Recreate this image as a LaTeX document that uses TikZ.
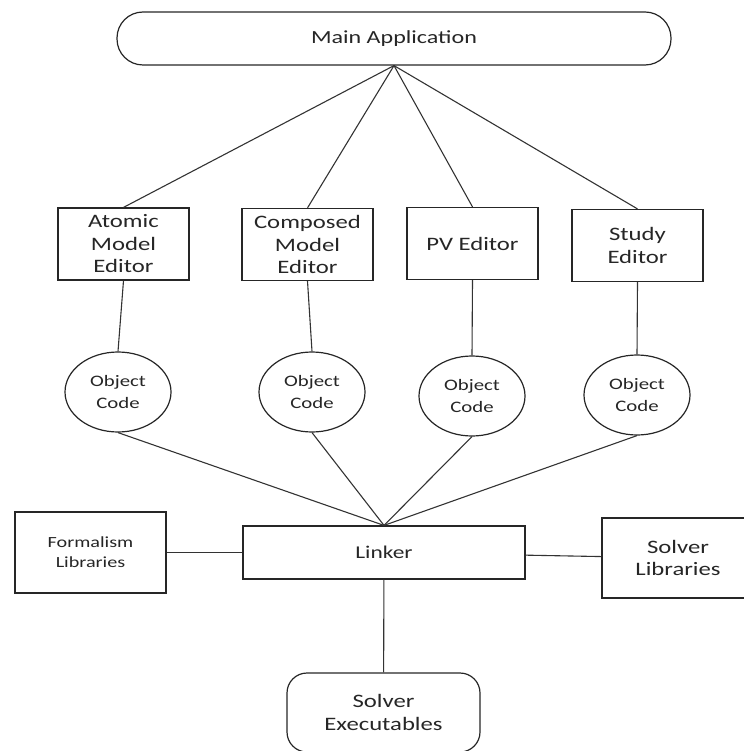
\documentclass[tikz,border=0pt]{standalone}
\usepackage{fontspec}
\setmainfont{Carlito}[FakeStretch=1.3]
\usetikzlibrary{shapes.geometric}

\begin{document}
\begin{tikzpicture}[x=1pt,y=-1pt,
    every node/.style={text=black!85,inner sep=0pt,align=center},
    pill/.style={draw=black!85,line width=1.2pt,rounded corners=26pt,minimum width=554pt,minimum height=53pt,font=\fontsize{18.5}{22}\selectfont},
    box/.style={draw=black!85,line width=1.2pt,minimum width=131pt,minimum height=72pt,font=\fontsize{19}{22.5}\selectfont},
    objcode/.style={draw=black!85,line width=1.2pt,ellipse,minimum width=106pt,minimum height=80pt,font=\fontsize{16}{22}\selectfont},
    conn/.style={draw=black!80,line width=1.1pt}]
    \useasboundingbox (0,0) rectangle (743,751);

    \node[pill] (mainapp) at (394,38.5) {Main Application};

    \node[box] (atomic) at (123.5,244) {Atomic\\Model\\Editor};
    \node[box] (composed) at (307.5,244.5) {Composed\\Model\\Editor};
    \node[box] (pveditor) at (472.5,243.5) {PV Editor};
    \node[box] (study) at (637.5,245.5) {Study\\Editor};

    \node[objcode] (obj1) at (118,392) {Object\\Code};
    \node[objcode] (obj2) at (312,392) {Object\\Code};
    \node[objcode] (obj3) at (472,396) {Object\\Code};
    \node[objcode] (obj4) at (637,395) {Object\\Code};

    \node[box,minimum width=282pt,minimum height=53pt,font=\fontsize{18}{22}\selectfont] (linker) at (384,552.5) {Linker};
    \node[box,minimum width=151pt,minimum height=81pt,font=\fontsize{15.5}{20}\selectfont] (formalism) at (90.5,552.5) {Formalism\\Libraries};
    \node[box,minimum width=152pt,minimum height=80pt] (solverlib) at (678,558) {Solver\\Libraries};
    \node[box,rounded corners=20pt,minimum width=193pt,minimum height=79pt] (solverexe) at (383.5,712.5) {Solver\\Executables};

    \foreach \n in {atomic,composed,pveditor,study}
        \draw[conn] (mainapp.south) -- (\n.north);
    \foreach \a/\b in {atomic/obj1,composed/obj2,pveditor/obj3,study/obj4}
        \draw[conn] (\a.south) -- (\b.north);
    \foreach \n in {obj1,obj2,obj3,obj4}
        \draw[conn] (\n.south) -- (linker.north);
    \draw[conn] (formalism) -- (linker);
    \draw[conn] (linker) -- (solverlib);
    \draw[conn] (linker) -- (solverexe);
\end{tikzpicture}
\end{document}
